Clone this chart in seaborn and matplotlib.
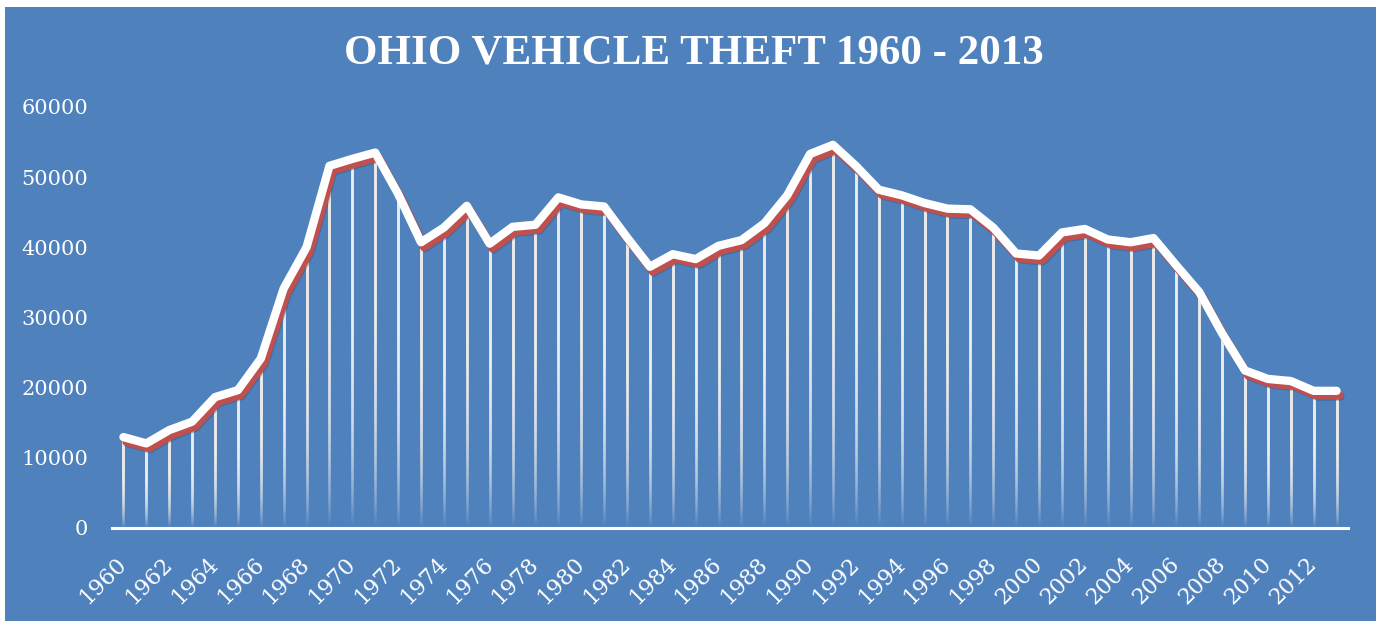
import numpy as np
import pandas as pd
import seaborn as sns
import matplotlib.pyplot as plt
import matplotlib.patheffects as pe
from matplotlib.patches import Rectangle

# Ohio vehicle theft
years = list(range(1960, 2014))
thefts = [12900, 12000, 13900, 15100, 18600, 19600, 24100, 34100, 40000, 51600,
          52600, 53500, 47600, 40700, 42800, 45900, 40500, 42900, 43200, 47100,
          46100, 45800, 41400, 37200, 39000, 38300, 40200, 41000, 43400, 47400,
          53300, 54600, 51600, 48200, 47400, 46300, 45500, 45400, 42800, 39100,
          38800, 42100, 42600, 41100, 40700, 41300, 37400, 33600, 27700, 22400,
          21200, 20900, 19500, 19500]
y_ticks = [0, 10000, 20000, 30000, 40000, 50000, 60000]
title = "OHIO VEHICLE THEFT 1960 - 2013"

df = pd.DataFrame({"year": years, "thefts": thefts})

BLUE = "#4F81BD"
RED = "#C0504D"

sns.set_style("white")
plt.rcParams['font.family'] = ['DejaVu Serif']

fig = plt.figure(figsize=(13.76, 6.21), dpi=100, facecolor="white")
# blue chart area, small white margin top/left
fig.patches.append(Rectangle((5 / 1376, 0), 1 - 5 / 1376, 1 - 7 / 621,
                             transform=fig.transFigure, facecolor=BLUE,
                             edgecolor="none", zorder=-10))

ax = fig.add_axes([112 / 1376, 1 - 527.5 / 621, (1348 - 112) / 1376, (527.5 - 107) / 621])
ax.set_facecolor("none")

# drop lines: stacked translucent lines -> white at top, fading towards the axis
n_layers = 70
for yr, v in zip(years, thefts):
    starts = np.linspace(0.01 * v, 0.75 * v, n_layers)
    ax.vlines([yr] * n_layers, starts, [v] * n_layers, colors="white",
              alpha=0.05, linewidth=1.8, zorder=2)

sns.lineplot(data=df, x="year", y="thefts", ax=ax, color="white", linewidth=6,
             zorder=3, solid_capstyle="round", solid_joinstyle="round",
             path_effects=[pe.SimpleLineShadow(offset=(2.8, -4.2), shadow_color="#2B4A70", alpha=0.35),
                           pe.SimpleLineShadow(offset=(2.2, -3.4), shadow_color=RED, alpha=1.0),
                           pe.Normal()])

ax.set_xlim(1959.5, 2013.5)
ax.set_ylim(0, 60000)
ax.set_yticks(y_ticks)
ax.set_yticklabels([str(t) for t in y_ticks])
ax.set_xticks(years[::2])
ax.set_xticklabels([str(y) for y in years[::2]], rotation=45, ha="right",
                   va="center", rotation_mode="anchor")
ax.tick_params(axis="y", length=0, pad=17, labelsize=15, labelcolor="white")
ax.tick_params(axis="x", length=0, pad=24, labelsize=16, labelcolor="white")
ax.set_xlabel("")
ax.set_ylabel("")

for s in ["top", "right", "left"]:
    ax.spines[s].set_visible(False)
ax.spines["bottom"].set_color("white")
ax.spines["bottom"].set_linewidth(2.2)
ax.spines["bottom"].set_zorder(4)
ax.grid(False)

fig.text(694 / 1376, 1 - 54 / 621, title, ha="center", va="center",
         color="white", fontsize=31, fontweight="bold", family="Liberation Serif")

fig.savefig("out.png", dpi=100, facecolor="white")
